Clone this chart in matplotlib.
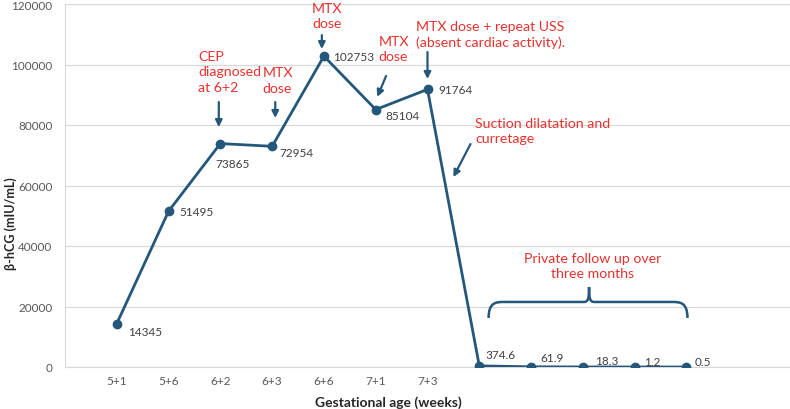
import matplotlib.pyplot as plt
from matplotlib.path import Path
from matplotlib.patches import PathPatch

plt.rcParams['font.family'] = ['Lato', 'DejaVu Sans']

# data
weeks = ['5+1', '5+6', '6+2', '6+3', '6+6', '7+1', '7+3', '', '', '', '', '']
hcg = [14345, 51495, 73865, 72954, 102753, 85104, 91764, 374.6, 61.9, 18.3, 1.2, 0.5]
hcg_labels = ['14345', '51495', '73865', '72954', '102753', '85104', '91764',
              '374.6', '61.9', '18.3', '1.2', '0.5']

line_col = '#24577A'
red = '#E8322E'
grey = '#595959'

fig = plt.figure(figsize=(7.9, 4.1), dpi=100)
ax = fig.add_axes([65 / 790, 42 / 410, 725 / 790, 363 / 410])

x = list(range(len(hcg)))
ax.plot(x, hcg, color=line_col, lw=2, marker='o', ms=6, zorder=3)

ax.set_xlim(-1, 13)
ax.set_ylim(0, 120000)
ax.set_yticks(range(0, 120001, 20000))
ax.set_xticks(x)
ax.set_xticklabels(weeks)
ax.tick_params(length=0, labelsize=8.5, colors=grey, pad=6)
ax.tick_params(axis='y', pad=9)
ax.grid(axis='y', color='#D9D9D9', lw=0.9)
ax.set_axisbelow(True)
for s in ['top', 'right']:
    ax.spines[s].set_visible(False)
ax.spines['left'].set_color('#D9D9D9')
ax.spines['bottom'].set_color('#D9D9D9')

# data labels (offsets in points)
offsets = [(8, -6), (8, 0), (-3.5, -14), (5, -4.5), (6.5, 0), (7, -4.5), (8, 0),
           (4.3, 8), (6.5, 7), (8.6, 4.3), (7, 4.3), (6, 4.3)]
for i, (v, lab) in enumerate(zip(hcg, hcg_labels)):
    dx, dy = offsets[i]
    ax.annotate(lab, (i, v), xytext=(dx, dy), textcoords='offset points',
                fontsize=8.5, color='#404040', ha='left', va='center')

# event annotations: text, text x, text top, arrow start x, y, arrow end x, y
notes = [
    ('CEP\ndiagnosed\nat 6+2', 1.57, 104900, 1.97, 87600, 1.97, 79300),
    ('MTX\ndose', 2.82, 99500, 3.06, 87600, 3.06, 82300),
    ('MTX\ndose', 3.77, 120700, 3.96, 109700, 3.96, 105100),
    ('MTX\ndose', 5.05, 109900, 5.2, 96200, 5.03, 89300),
    ('MTX dose + repeat USS\n(absent cardiac activity).', 5.78, 114800, 6.0, 104100, 6.0, 95200),
    ('Suction dilatation and\ncurretage', 6.92, 82700, 6.83, 73700, 6.5, 62800),
]
for txt, tx, ty, ax0, ay0, ax1, ay1 in notes:
    ax.text(tx, ty, txt, color=red, fontsize=10.2, ha='left', va='top',
            linespacing=1.35, clip_on=False)
    ax.annotate('', xy=(ax1, ay1), xytext=(ax0, ay0),
                arrowprops=dict(arrowstyle='-|>', color=line_col, lw=1.6,
                                mutation_scale=10, shrinkA=0, shrinkB=0))

ax.text(9.19, 33500, 'Private follow up over\nthree months', color=red, fontsize=10.2,
        ha='center', va='center', linespacing=1.35)

# curly brace over follow-up
xl, xr, xm = 7.18, 11.02, 9.12
yb, yl, yt = 16200, 21500, 26400
verts = [(xl, yb), (xl, yl), (xl + 0.15, yl), (xl + 0.3, yl),
         (xm - 0.1, yl),
         (xm - 0.02, yl), (xm, yl + 1000), (xm, yt),
         (xm, yl + 1000), (xm + 0.02, yl), (xm + 0.1, yl),
         (xr - 0.3, yl),
         (xr - 0.15, yl), (xr, yl), (xr, yb)]
codes = [Path.MOVETO, Path.CURVE4, Path.CURVE4, Path.CURVE4,
         Path.LINETO,
         Path.CURVE4, Path.CURVE4, Path.CURVE4,
         Path.CURVE4, Path.CURVE4, Path.CURVE4,
         Path.LINETO,
         Path.CURVE4, Path.CURVE4, Path.CURVE4]
ax.add_patch(PathPatch(Path(verts, codes), fill=False, edgecolor=line_col, lw=1.8))

fig.text(11 / 790, 186 / 410, 'β-hCG (mIU/mL)', rotation=90, ha='center', va='center',
         fontsize=9, fontweight='bold', color='#262626')
fig.text(388 / 790, 7 / 410, 'Gestational age (weeks)', ha='center', va='center',
         fontsize=10, fontweight='bold', color='#262626')

fig.savefig('out.png', dpi=100)
